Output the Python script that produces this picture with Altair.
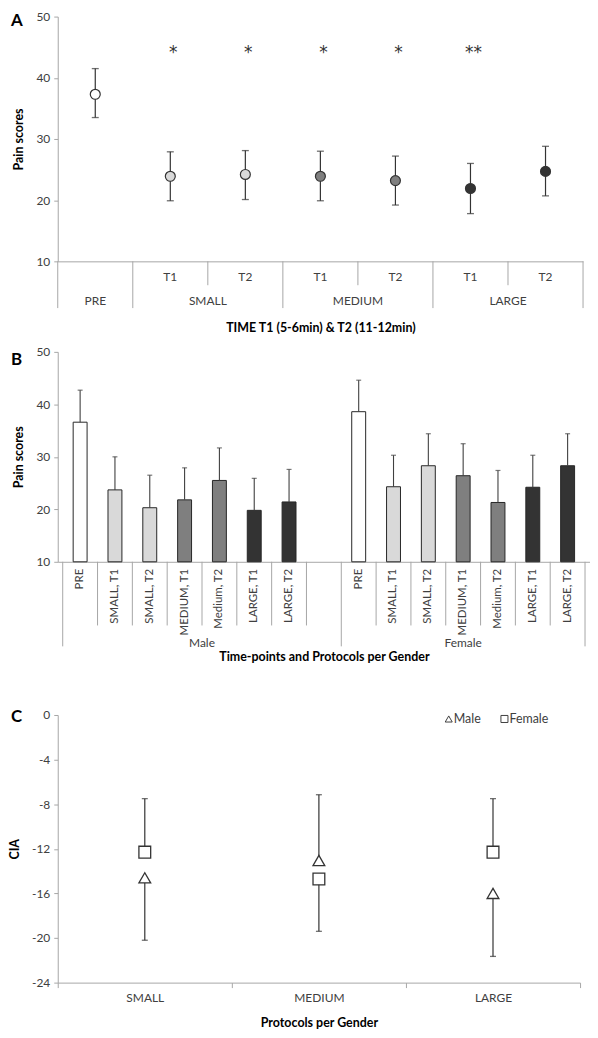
import altair as alt
import pandas as pd
import numpy as np

FONT = "Lato"
AXC = "#a6a6a6"
LBL = "#404040"
DARK = "#333333"

# ---------------- Panel A data ----------------
A_groups = ["PRE", "SMALL", "SMALL", "MEDIUM", "MEDIUM", "LARGE", "LARGE"]
A_times = ["", "T1", "T2", "T1", "T2", "T1", "T2"]
A_mean = [37.3, 23.9, 24.2, 23.9, 23.2, 21.9, 24.7]
A_lower = [33.5, 19.9, 20.1, 19.9, 19.2, 17.8, 20.7]
A_upper = [41.5, 27.9, 28.1, 28.0, 27.2, 26.0, 28.8]
A_sig = ["", "*", "*", "*", "*", "**", ""]
A_sig_level = 44

# ---------------- Panel B data ----------------
B_labels = ["PRE", "SMALL, T1", "SMALL, T2", "MEDIUM, T1", "Medium, T2", "LARGE, T1", "LARGE, T2"]
B_protocol = ["PRE", "SMALL", "SMALL", "MEDIUM", "MEDIUM", "LARGE", "LARGE"]
B_genders = ["Male", "Female"]
B_male_mean = [36.6, 23.7, 20.3, 21.8, 25.5, 19.8, 21.4]
B_male_upper = [42.7, 30.0, 26.5, 27.9, 31.7, 25.9, 27.6]
B_female_mean = [38.6, 24.3, 28.3, 26.4, 21.3, 24.2, 28.3]
B_female_upper = [44.6, 30.3, 34.4, 32.5, 27.4, 30.3, 34.4]

# ---------------- Panel C data ----------------
C_protocols = ["SMALL", "MEDIUM", "LARGE"]
C_genders = ["Male", "Female"]
C_shapes = ["triangle-up", "square"]
C_male_mean = [-14.6, -13.05, -16.0]
C_male_end = [-20.2, -7.15, -21.65]
C_female_mean = [-12.3, -14.7, -12.3]
C_female_end = [-7.5, -19.4, -7.5]

GROUP_DOMAIN = ["PRE", "SMALL", "MEDIUM", "LARGE"]
GROUP_RANGE = ["#ffffff", "#d9d9d9", "#7f7f7f", "#333333"]
fill_scale = alt.Scale(domain=GROUP_DOMAIN, range=GROUP_RANGE)
LETTER_X = -47


def letter(ch, dy):
    return alt.Chart(pd.DataFrame({"t": [ch]})).mark_text(
        font=FONT, fontSize=17, fontWeight="bold", align="left", baseline="top", color="black"
    ).encode(x=alt.value(LETTER_X), y=alt.value(dy), text="t:N")


# =============== Panel A ===============
WA, HA = 528, 246
nA = len(A_groups)
dfA = pd.DataFrame({"group": A_groups, "time": A_times, "mean": A_mean,
                    "lower": A_lower, "upper": A_upper, "sig": A_sig})
dfA["pos"] = np.arange(nA) + 0.5

sxA = alt.Scale(domain=[0, nA], nice=False, zero=False)
axA_x = alt.Axis(labels=False, ticks=False, grid=False, domainColor=AXC, titlePadding=61)
TA = "TIME T1 (5-6min) & T2 (11-12min)"
syA = alt.Scale(domain=[10, 50], nice=False, zero=False)
axA_y = alt.Axis(values=[10, 20, 30, 40, 50], grid=False)


def xa(f):
    return alt.X(f, scale=sxA, axis=axA_x, title=TA)


def ya(f):
    return alt.Y(f, scale=syA, axis=axA_y, title="Pain scores")


baseA = alt.Chart(dfA)
errA = baseA.mark_rule(color=DARK, strokeWidth=1.2).encode(x=xa("pos:Q"), y=ya("lower:Q"), y2="upper:Q")
capA1 = baseA.mark_tick(orient="horizontal", size=7, thickness=1.3, color=DARK).encode(x=xa("pos:Q"), y=ya("upper:Q"))
capA2 = baseA.mark_tick(orient="horizontal", size=7, thickness=1.3, color=DARK).encode(x=xa("pos:Q"), y=ya("lower:Q"))
ptsA = baseA.mark_circle(size=100, opacity=1, stroke=DARK, strokeWidth=1.2).encode(
    x=xa("pos:Q"), y=ya("mean:Q"),
    fill=alt.Fill("group:N", scale=fill_scale, legend=None))
sigA = baseA.transform_filter("datum.sig != ''").mark_text(
    font="DejaVu Sans", fontSize=17, color=DARK, dx=3, baseline="middle").encode(
    x=xa("pos:Q"), y=alt.datum(A_sig_level), text="sig:N")

boundsA = list(range(nA + 1))
longA = [i == 0 or i == nA or A_groups[i] != A_groups[i - 1] for i in boundsA]
dfAb = pd.DataFrame({"b": boundsA, "long": longA})
sepA_long = alt.Chart(dfAb).transform_filter("datum.long").mark_rule(color=AXC).encode(
    x=xa("b:Q"), y=alt.value(HA), y2=alt.value(HA + 47))
sepA_short = alt.Chart(dfAb).transform_filter("!datum.long").mark_rule(color=AXC).encode(
    x=xa("b:Q"), y=alt.value(HA), y2=alt.value(HA + 24))
timeA = baseA.transform_filter("datum.time != ''").mark_text(
    font=FONT, fontSize=12, color=LBL, baseline="middle").encode(
    x=xa("pos:Q"), y=alt.value(HA + 16), text="time:N")
dfAg = dfA.groupby("group", sort=False)["pos"].mean().reset_index()
grpA = alt.Chart(dfAg).mark_text(font=FONT, fontSize=12, color=LBL, baseline="middle").encode(
    x=xa("pos:Q"), y=alt.value(HA + 40), text="group:N")

panelA = alt.layer(sepA_long, sepA_short, timeA, grpA, errA, capA1, capA2, ptsA, sigA,
                   letter("A", -4)).properties(width=WA, height=HA)

# =============== Panel B ===============
WB, HB = 535, 211
nL = len(B_labels)
rows = []
for gi, (g, means, ups) in enumerate(zip(B_genders, [B_male_mean, B_female_mean],
                                         [B_male_upper, B_female_upper])):
    for i in range(nL):
        slot = gi * (nL + 1) + i
        rows.append({"gender": g, "label": B_labels[i], "protocol": B_protocol[i],
                     "mean": means[i], "upper": ups[i], "pos": slot + 0.5})
dfB = pd.DataFrame(rows)
nSlots = 2 * nL + 1

sxB = alt.Scale(domain=[0, nSlots], nice=False, zero=False)
axB_x = alt.Axis(labels=False, ticks=False, grid=False, domainColor=AXC, titlePadding=89)
TB = "Time-points and Protocols per Gender"
syB = alt.Scale(domain=[10, 50], nice=False, zero=False)
axB_y = alt.Axis(values=[10, 20, 30, 40, 50], grid=False)


def xb(f):
    return alt.X(f, scale=sxB, axis=axB_x, title=TB)


def yb(f):
    return alt.Y(f, scale=syB, axis=axB_y, title="Pain scores")


baseB = alt.Chart(dfB)
barsB = baseB.mark_bar(size=14, stroke="#262626", strokeWidth=1).encode(
    x=xb("pos:Q"), y=yb("mean:Q"), y2=alt.datum(10),
    fill=alt.Fill("protocol:N", scale=fill_scale, legend=None))
errB = baseB.mark_rule(color=LBL, strokeWidth=1.1).encode(x=xb("pos:Q"), y=yb("mean:Q"), y2="upper:Q")
capB = baseB.mark_tick(orient="horizontal", size=5, thickness=1.2, color=LBL).encode(
    x=xb("pos:Q"), y=yb("upper:Q"))
labB = baseB.mark_text(font=FONT, fontSize=11.5, color=LBL, angle=270, align="right",
                       baseline="middle").encode(x=xb("pos:Q"), y=alt.value(HB + 7), text="label:N")

boundsB = list(range(nSlots + 1))
longB = [b in (0, nL + 1, nSlots) for b in boundsB]
dfBb = pd.DataFrame({"b": boundsB, "long": longB})
sepB_long = alt.Chart(dfBb).transform_filter("datum.long").mark_rule(color=AXC).encode(
    x=xb("b:Q"), y=alt.value(HB), y2=alt.value(HB + 85))
sepB_short = alt.Chart(dfBb).transform_filter("!datum.long").mark_rule(color=AXC).encode(
    x=xb("b:Q"), y=alt.value(HB), y2=alt.value(HB + 64))
dfBg = pd.DataFrame({"gender": B_genders,
                     "pos": [(0 + nL + 1) / 2, (nL + 1 + nSlots) / 2]})
grpB = alt.Chart(dfBg).mark_text(font=FONT, fontSize=12, color=LBL, baseline="middle").encode(
    x=xb("pos:Q"), y=alt.value(HB + 82), text="gender:N")

panelB = alt.layer(sepB_long, sepB_short, labB, grpB, barsB, errB, capB,
                   letter("B", 0)).properties(width=WB, height=HB)

# =============== Panel C ===============
WC, HC = 525, 269
rowsC = []
for g, means, ends in zip(C_genders, [C_male_mean, C_female_mean], [C_male_end, C_female_end]):
    for p, m, e in zip(C_protocols, means, ends):
        rowsC.append({"gender": g, "protocol": p, "mean": m, "end": e})
dfC = pd.DataFrame(rowsC)

sxC = alt.Scale(domain=C_protocols, paddingInner=0, paddingOuter=0)
axC_x = alt.Axis(labelAngle=0, tickBand="extent", tickSize=5, grid=False, domainColor=AXC,
                 tickColor=AXC, labelPadding=5, titlePadding=13)
syC = alt.Scale(domain=[-24, 0], nice=False, zero=False)
axC_y = alt.Axis(values=[0, -4, -8, -12, -16, -20, -24], grid=False, labelExpr="'' + datum.value")
shape_scale = alt.Scale(domain=C_genders, range=C_shapes)


def xc():
    return alt.X("protocol:N", scale=sxC, axis=axC_x, sort=C_protocols, title="Protocols per Gender")


def yc(f):
    return alt.Y(f, scale=syC, axis=axC_y, title="CIA")


baseC = alt.Chart(dfC)
errC = baseC.mark_rule(color=DARK, strokeWidth=1.2).encode(x=xc(), y=yc("mean:Q"), y2="end:Q")
capC = baseC.mark_tick(orient="horizontal", size=6, thickness=1.3, color=DARK).encode(
    x=xc(), y=yc("end:Q"))
ptsC = baseC.mark_point(filled=True, fill="white", stroke=DARK, strokeWidth=1.3, size=140, opacity=1).encode(
    x=xc(), y=yc("mean:Q"),
    shape=alt.Shape("gender:N", scale=shape_scale, legend=None))

# hand-drawn legend (top right, inside the plot)
legC = []
for g, lx in zip(C_genders, [393, 449]):
    d = pd.DataFrame({"gender": [g]})
    legC.append(alt.Chart(d).mark_point(filled=True, fill="white", stroke=LBL, strokeWidth=1,
                                        size=50, opacity=1).encode(
        x=alt.value(lx), y=alt.value(4),
        shape=alt.Shape("gender:N", scale=shape_scale, legend=None)))
    legC.append(alt.Chart(d).mark_text(font=FONT, fontSize=12.5, color=LBL, align="left",
                                       baseline="middle").encode(
        x=alt.value(lx + 5), y=alt.value(4), text="gender:N"))

panelC = alt.layer(errC, capC, ptsC, *legC, letter("C", -6)).properties(width=WC, height=HC)

top = alt.vconcat(panelA, panelB, spacing=11)
chart = alt.vconcat(top, panelC, spacing=45).properties(padding=0).configure_view(
    stroke=None).configure_axis(
    labelFont=FONT, titleFont=FONT, labelFontSize=12, labelColor=LBL,
    titleFontSize=12.5, titleFontWeight="bold", titleColor="black",
    domainColor=AXC, tickColor=AXC, tickSize=4, labelPadding=4,
).configure_axisY(titlePadding=10)

chart.save("out.html", embed_options={"renderer": "svg", "actions": False})
